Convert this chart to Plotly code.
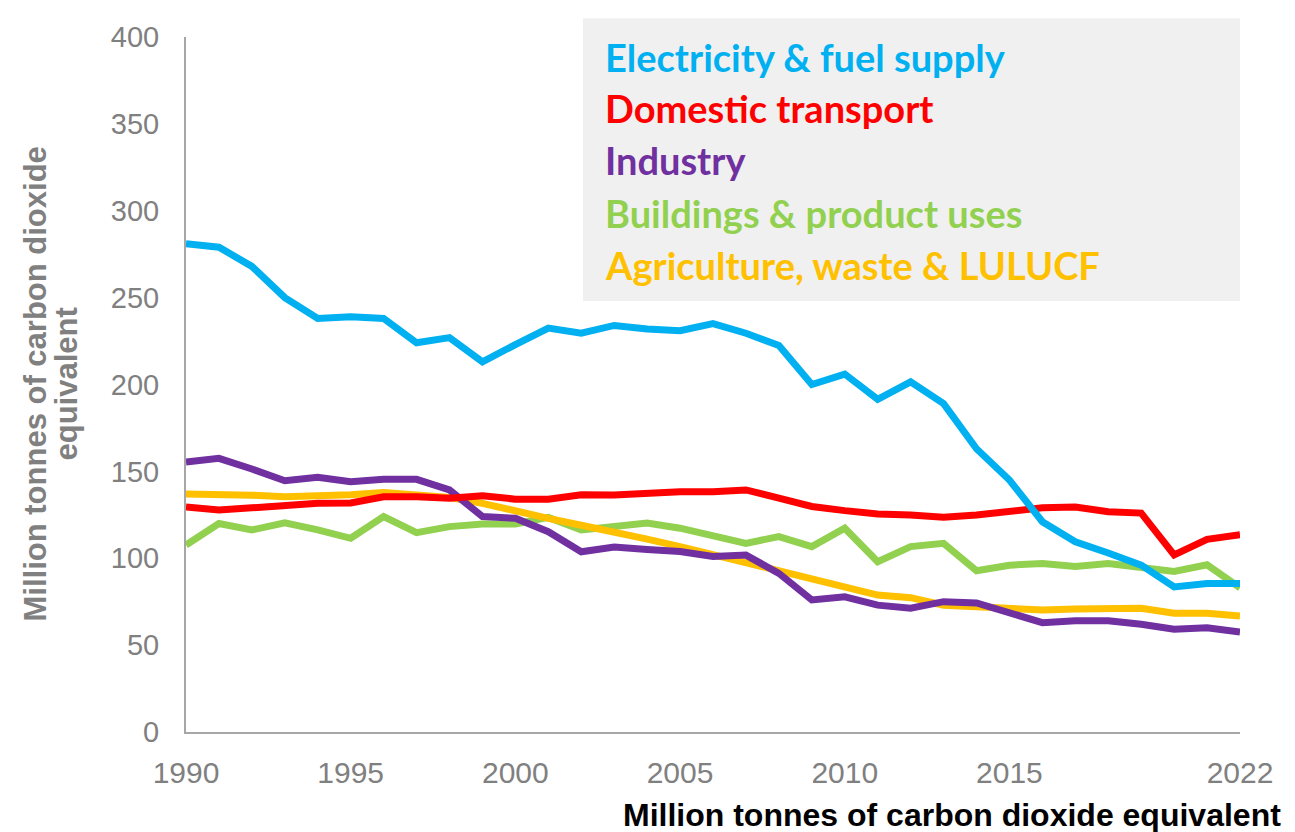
import plotly.graph_objects as go

years = list(range(1990, 2023))

electricity = [281, 279, 268, 250, 238, 239, 238, 224, 227, 213, 223, 232.5, 229.5, 234,
               232, 231, 235, 229.5, 222.5, 200, 206, 191.5, 201.5, 189, 163, 145,
               121, 109.5, 103, 96, 83.5, 85.5, 85.5]
transport = [129.5, 127.8, 129, 130.6, 131.6, 131.8, 135.4, 135.4, 134.5, 136, 134, 134, 136.5, 136.4,
             137.5, 138.3, 138.3, 139.3, 134.6, 129.8, 127.4, 125.5, 124.9, 123.6, 124.9, 126.5,
             129, 129.5, 126.8, 126, 101.9, 110.9, 113.5]
industry = [155.4, 157.5, 151.4, 144.6, 146.6, 144, 145.4, 145.4, 139.3, 124, 123, 115.3, 103.7, 106.5,
            105, 103.9, 101, 101.8, 91.3, 76, 77.8, 73, 71.2, 75, 74.3, 68.8,
            62.9, 64, 64, 62, 59.2, 60, 57.5]
buildings = [107.6, 120, 116.3, 120.4, 116.3, 111.5, 124, 114.7, 118.2, 119.7, 119.7, 123.5, 116.3, 118,
             120.3, 117.3, 112.9, 108.6, 112.5, 106.7, 117.3, 98, 106.7, 108.6, 92.8, 96,
             97, 95.2, 97, 94.3, 92.4, 96.2, 83]
agriculture = [137, 137, 136.3, 135.4, 135.8, 136.5, 137.9, 136.4, 135, 131.6, 127.8, 123, 119, 114.5,
               111, 106.7, 101.9, 97.4, 92.2, 87.4, 82.6, 78.8, 77.3, 73, 72.1, 71.5,
               70.2, 70.8, 71.2, 71.2, 68.4, 68.4, 66.8]

series_names = ["Electricity & fuel supply", "Domestic transport", "Industry",
                "Buildings & product uses", "Agriculture, waste & LULUCF"]
series_values = [electricity, transport, industry, buildings, agriculture]
series_colors = ["#00b0f0", "#ff0000", "#7030a0", "#92d050", "#ffc000"]
draw_order = [3, 4, 2, 1, 0]

x_tickvals = [1990, 1995, 2000, 2005, 2010, 2015, 2022]
y_tickvals = [0, 50, 100, 150, 200, 250, 300, 350, 400]
y_title_lines = ["Million tonnes of carbon dioxide", "equivalent"]
x_title = "Million tonnes of carbon dioxide equivalent"

fig = go.Figure()
for i in draw_order:
    fig.add_trace(go.Scatter(x=years, y=series_values[i], mode="lines", name=series_names[i],
                             line=dict(color=series_colors[i], width=7), showlegend=False))

fig.update_layout(
    width=1295, height=832,
    margin=dict(l=186, r=55, t=37, b=100),
    paper_bgcolor="white", plot_bgcolor="white",
    font=dict(family="Liberation Sans, Arial, sans-serif"),
    xaxis=dict(range=[1990, 2022], tickvals=x_tickvals, showgrid=False, zeroline=False,
               showline=True, linecolor="#a6a6a6", linewidth=2,
               tickfont=dict(size=30, color="#808080"), ticks="", ticklabelstandoff=13),
    yaxis=dict(range=[0, 400], tickvals=y_tickvals, showgrid=False, zeroline=False,
               showline=True, linecolor="#a6a6a6", linewidth=2,
               tickfont=dict(size=29, color="#808080"), ticks="", ticklabelstandoff=19),
)

fig.add_shape(type="rect", xref="paper", yref="paper", x0=0.3767, x1=1.0, y0=0.620, y1=1.027,
              fillcolor="#f0f0f0", line=dict(width=0), layer="below")

legend_y = [0.971, 0.898, 0.823, 0.747, 0.672]
for name, col, yy in zip(series_names, series_colors, legend_y):
    fig.add_annotation(xref="paper", yref="paper", x=0.3956, y=yy, xanchor="left", yanchor="middle",
                       text="<b>" + name + "</b>", showarrow=False,
                       font=dict(family="Lato, Open Sans, sans-serif", size=38, color=col))

for line_text, px_x in zip(y_title_lines, [35, 66]):
    fig.add_annotation(xref="paper", yref="paper", x=(px_x - 186) / 1054, y=0.5,
                       xanchor="center", yanchor="middle",
                       text="<b>" + line_text + "</b>", textangle=-90, showarrow=False,
                       font=dict(family="Liberation Sans, Arial", size=31, color="#808080"))

fig.add_annotation(xref="paper", yref="paper", x=1.0408, y=-0.119, xanchor="right", yanchor="middle",
                   text="<b>" + x_title + "</b>", showarrow=False,
                   font=dict(family="Liberation Sans, Arial", size=32, color="black"))

fig.write_html("out.html")
